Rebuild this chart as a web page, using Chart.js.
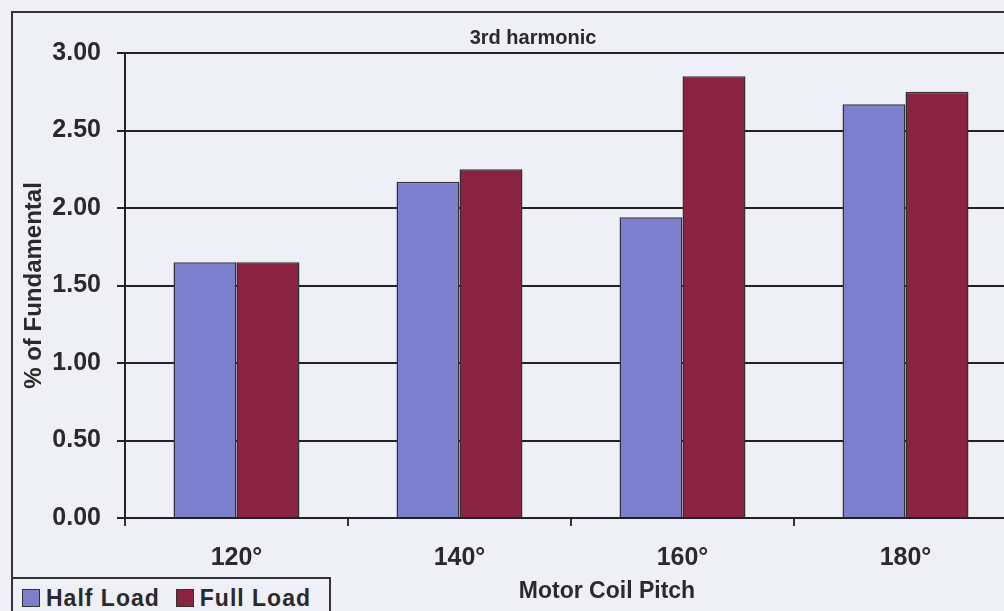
<!DOCTYPE html>
<html>
<head>
<meta charset="utf-8">
<script src="https://cdn.jsdelivr.net/npm/chart.js@4"></script>
<style>
  html, body { margin: 0; padding: 0; background: #efeff7; overflow: hidden; }
  #wrap { position: relative; width: 1004px; height: 611px; overflow: hidden; }
  #box { position: absolute; left: 0; top: 0; width: 1040px; height: 611px; }
  #frame { position: absolute; left: 11px; top: 11px; width: 1040px; height: 620px; border: 2px solid #333; box-sizing: border-box; }
  #legend { position: absolute; left: 11px; top: 577px; width: 320px; height: 40px; border: 2px solid #333;
    box-sizing: border-box; background: #efeff7; font: bold 23px "Liberation Sans", Arial, sans-serif; color: #2a2a2a;
    padding: 6px 0 0 9px; white-space: nowrap; letter-spacing: 1px; }
  #legend span.item { margin-right: 16px; }
  #legend i { display: inline-block; width: 16px; height: 16px; border: 1px solid #333; margin-right: 6px; vertical-align: -1px; }
</style>
</head>
<body>
<div id="wrap">
  <div id="frame"></div>
  <div id="box"><canvas id="myChart" width="1040" height="611"></canvas></div>
  <div id="legend"></div>
</div>
<script>
const categories = ['120°', '140°', '160°', '180°'];
const halfLoad = [1.65, 2.17, 1.94, 2.67];
const fullLoad = [1.65, 2.25, 2.85, 2.75];
const yTicks = [0, 0.5, 1, 1.5, 2, 2.5, 3];

const FONT = '"Liberation Sans", Arial, sans-serif';
const INK = '#2a2a2a';

// title and x axis title sit off-centre in the original, so draw them by hand
const textPlugin = {
  id: 'texts',
  afterDraw(chart) {
    const c = chart.ctx;
    c.save();
    c.fillStyle = INK;
    c.textAlign = 'center';
    c.textBaseline = 'middle';
    c.font = 'bold 20px ' + FONT;
    c.fillText('3rd harmonic', 533, 38);
    c.font = 'bold 23px ' + FONT;
    c.fillText('Motor Coil Pitch', 607, 592);
    c.restore();
  }
};

const ctx = document.getElementById('myChart').getContext('2d');
const chart = new Chart(ctx, {
  type: 'bar',
  data: {
    labels: categories,
    datasets: [{
      label: 'Half Load',
      data: halfLoad,
      backgroundColor: '#7b7fcc',
      borderColor: '#333333',
      borderWidth: 1.5
    }, {
      label: 'Full Load',
      data: fullLoad,
      backgroundColor: '#8a2242',
      borderColor: '#333333',
      borderWidth: 1.5
    }]
  },
  options: {
    responsive: false,
    animation: false,
    layout: { padding: { top: 53, right: 23, left: 0, bottom: 0 } },
    plugins: { legend: { display: false }, tooltip: { enabled: false } },
    datasets: { bar: { categoryPercentage: 0.565, barPercentage: 1 } },
    scales: {
      x: {
        afterFit: s => { s.height = 93; },
        grid: { drawOnChartArea: false, tickLength: 8, color: '#333', lineWidth: 2, offset: true },
        border: { color: '#222', width: 2 },
        ticks: { color: INK, font: { family: FONT, size: 25, weight: 'bold' }, padding: 17 }
      },
      y: {
        min: 0,
        max: 3,
        afterFit: s => { s.width = 125; },
        afterBuildTicks: s => { s.ticks = yTicks.map(v => ({ value: v })); },
        grid: { color: '#222', lineWidth: 2, tickLength: 8 },
        border: { color: '#222', width: 2 },
        ticks: {
          color: INK, font: { family: FONT, size: 25, weight: 'bold' }, padding: 16,
          callback: v => Number(v).toFixed(2)
        },
        title: {
          display: true, text: '% of Fundamental', color: INK,
          font: { family: FONT, size: 24, weight: 'bold' }, padding: { top: 20, bottom: 0 }
        }
      }
    }
  },
  plugins: [textPlugin]
});

// legend box from the datasets
const lg = document.getElementById('legend');
chart.data.datasets.forEach(ds => {
  const item = document.createElement('span');
  item.className = 'item';
  const sw = document.createElement('i');
  sw.style.background = ds.backgroundColor;
  item.appendChild(sw);
  item.appendChild(document.createTextNode(ds.label));
  lg.appendChild(item);
});
</script>
</body>
</html>
